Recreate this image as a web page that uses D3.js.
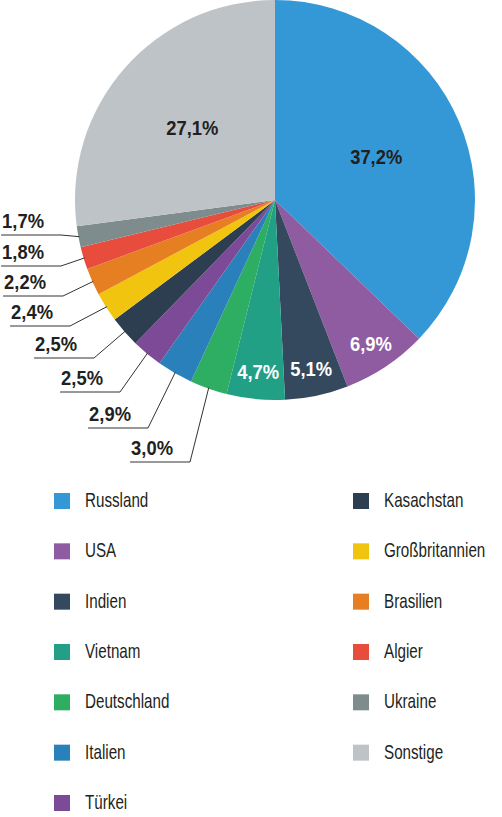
<!DOCTYPE html>
<html><head><meta charset="utf-8">
<script src="https://cdn.jsdelivr.net/npm/d3@7"></script>
<style>
html,body{margin:0;padding:0;background:#fff;}
svg text{font-family:"Liberation Sans",Arial,sans-serif;}
</style></head>
<body>
<svg id="c" width="502" height="817"></svg>
<script>
const categories = ["Russland","USA","Indien","Vietnam","Deutschland","Italien","Türkei","Kasachstan","Großbritannien","Brasilien","Algier","Ukraine","Sonstige"];
const values = [37.2,6.9,5.1,4.7,3.0,2.9,2.5,2.5,2.4,2.2,1.8,1.7,27.1];
const labels = ["37,2%","6,9%","5,1%","4,7%","3,0%","2,9%","2,5%","2,5%","2,4%","2,2%","1,8%","1,7%","27,1%"];
const colors = ["#3598d6","#8f5ca2","#34495e","#21a086","#2eae62","#2a80ba","#7d4a98","#2c3e50","#f1c40f","#e67e22","#e74c3c","#7f8c8d","#bdc3c7"];

// layout (not data): label placement style per slice
const labelMode = ["inBig","inSmall","inSmall","inSmall","out","out","out","out","out","out","out","out","inBig"];
// callout elbow positions for outside labels (slice index -> [x, y])
const elbows = {4:[190,462],5:[148,428],6:[120,392],7:[94,358],8:[70,326],9:[63,296],10:[61,266],11:[61,235]};

const BOLD_SX = 0.92, REG_SX = 0.76;
function ctext(sel, x, y, str, opts){
  const t = sel.append("text")
    .attr("transform",`translate(${x},${y}) scale(${opts.sx},1)`)
    .attr("font-size",20)
    .attr("font-weight",opts.bold?"bold":"normal")
    .attr("text-anchor",opts.anchor||"start")
    .attr("fill",opts.fill||"#231f20")
    .text(str);
  return t;
}

const svg = d3.select("#c");
const cx = 275, cy = 200, R = 200;
const g = svg.append("g").attr("transform",`translate(${cx},${cy})`);

const pie = d3.pie().sort(null).value(d=>d.v);
const data = categories.map((c,i)=>({c, v:values[i], l:labels[i], col:colors[i], i}));
const arcs = pie(data);
const arc = d3.arc().innerRadius(0).outerRadius(R);

g.selectAll("path").data(arcs).join("path")
  .attr("d", arc).attr("fill", d=>d.data.col);

const arcBig = d3.arc().innerRadius(110).outerRadius(110);
const arcSmall = d3.arc().innerRadius(173).outerRadius(173);
const arcEdge = d3.arc().innerRadius(R-1).outerRadius(R-1);

arcs.forEach(a=>{
  const m = labelMode[a.data.i];
  if (m === "inBig" || m === "inSmall") {
    const p = (m==="inBig"?arcBig:arcSmall).centroid(a);
    ctext(g, p[0], p[1]+7, a.data.l, {sx:BOLD_SX, bold:true, anchor:"middle", fill: m==="inBig" ? "#231f20" : "#fff"});
  } else {
    const e = arcEdge.centroid(a);
    const el = elbows[a.data.i];
    const ex = el[0]-cx, ey = el[1]-cy;
    const tx = ex-17;
    const t = ctext(g, tx, ey-7.5, a.data.l, {sx:BOLD_SX, bold:true, anchor:"end"});
    const w = t.node().getComputedTextLength()*BOLD_SX;
    const sx = Math.max(-cx, tx-w-1);
    g.append("polyline").attr("points",`${sx},${ey} ${ex},${ey} ${e[0]},${e[1]}`)
      .attr("fill","none").attr("stroke","#333").attr("stroke-width",1);
  }
});

// legend
const perCol = 7;
const legend = svg.append("g");
const rowY = d3.scaleLinear().domain([0,6]).range([501,803]);
data.forEach((d,i)=>{
  const col = Math.floor(i/perCol), row = i%perCol;
  const x = col===0 ? 54 : 353;
  const y = rowY(row);
  legend.append("rect").attr("x",x).attr("y",y-8).attr("width",16).attr("height",16).attr("fill",d.col);
  ctext(legend, x+31, y+6, d.c, {sx:REG_SX});
});
</script>
</body></html>
